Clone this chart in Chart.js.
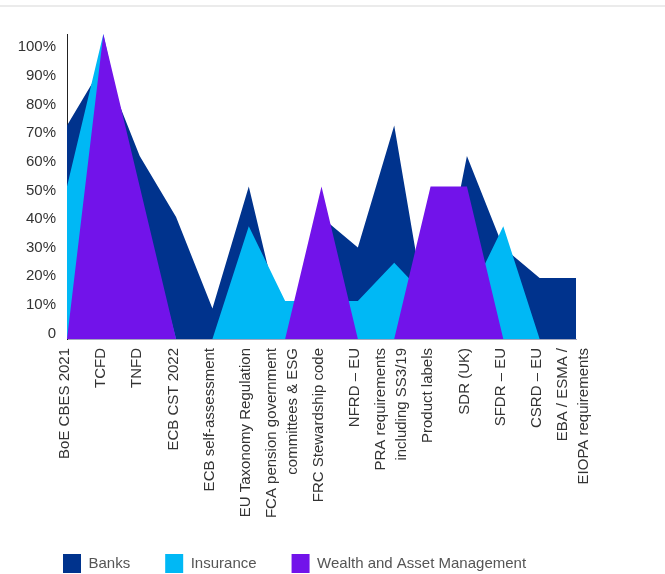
<!DOCTYPE html>
<html>
<head>
<meta charset="utf-8">
<script src="https://cdn.jsdelivr.net/npm/chart.js@4.4.0/dist/chart.umd.min.js"></script>
<style>
  html, body { margin: 0; padding: 0; background: #fff; }
  #wrap { position: relative; width: 665px; height: 574px; }
  .rule { position: absolute; left: 0; top: 5px; width: 665px; height: 2px; background: #ebebeb; }
</style>
</head>
<body>
<div id="wrap">
  <canvas id="chart"></canvas>
  <div class="rule"></div>
</div>
<script>
const categories = [
  'BoE CBES 2021',
  'TCFD',
  'TNFD',
  'ECB CST 2022',
  'ECB self-assessment',
  'EU Taxonomy Regulation',
  ['FCA pension government', 'committees & ESG'],
  'FRC Stewardship code',
  'NFRD – EU',
  ['PRA requirements', 'including SS3/19'],
  'Product labels',
  'SDR (UK)',
  'SFDR – EU',
  'CSRD – EU',
  ['EBA / ESMA /', 'EIOPA requirements'],
];

const banks = [70, 90, 60, 40, 10, 50, 0, 40, 30, 70, 0, 60, 30, 20, 20];
const insurance = [50, 100, 45, 0, 0, 37, 12.5, 12.5, 12.5, 25, 12.5, 12.5, 37, 0, 0];
const wealth = [0, 100, 50, 0, 0, 0, 0, 50, 0, 0, 50, 50, 0, 0, 0];

const tickValues = [0, 10, 20, 30, 40, 50, 60, 70, 80, 90, 100];

const FONT = "'Liberation Sans', Arial, Helvetica, sans-serif";
const LEGEND_LEFT = 63;
const LEGEND_TOP = 554;

// put the legend row where the source has it (first swatch under the axis)
const legendShift = {
  id: 'legendShift',
  afterLayout(chart) {
    const lg = chart.legend;
    if (!lg) return;
    const pad = lg.options.labels.padding;
    const w = lg.width;
    lg.left = LEGEND_LEFT - pad;
    lg.right = lg.left + w;
    lg.top = LEGEND_TOP - pad;
    lg.bottom = chart.height;
    lg.height = lg.bottom - lg.top;
  },
};

const ctx = document.getElementById('chart');

new Chart(ctx, {
  type: 'line',
  plugins: [legendShift],
  data: {
    labels: categories,
    datasets: [
      {
        label: 'Banks',
        data: banks,
        backgroundColor: '#00338d',
        borderColor: '#00338d',
        order: 3,
      },
      {
        label: 'Insurance',
        data: insurance,
        backgroundColor: '#00b8f5',
        borderColor: '#00b8f5',
        order: 2,
      },
      {
        label: 'Wealth and Asset Management',
        data: wealth,
        backgroundColor: '#7213ea',
        borderColor: '#7213ea',
        order: 1,
      },
    ],
  },
  options: {
    responsive: true,
    maintainAspectRatio: false,
    animation: false,
    layout: {
      padding: { top: 34, left: 12, right: 89, bottom: 0 },
    },
    elements: {
      line: { fill: 'origin', borderWidth: 0, tension: 0 },
      point: { radius: 0, hoverRadius: 0 },
    },
    plugins: {
      tooltip: { enabled: false },
      legend: {
        position: 'bottom',
        align: 'start',
        reverse: true,
        maxHeight: 30,
        labels: {
          boxWidth: 18,
          boxHeight: 19,
          padding: 35,
          color: '#555555',
          font: { family: FONT, size: 15 },
        },
      },
    },
    scales: {
      x: {
        offset: false,
        grid: { display: false, drawTicks: false },
        border: { display: true, color: '#a3a7bd', width: 1 },
        afterFit: (scale) => { scale.height = 205; },
        ticks: {
          autoSkip: false,
          minRotation: 90,
          maxRotation: 90,
          padding: 9,
          labelOffset: -13,
          color: '#333333',
          // one-line names get an empty leading line so they stay over their point
          // while two-line names straddle it
          callback: (v, i) => (Array.isArray(categories[i]) ? categories[i] : ['', categories[i]]),
          font: (c) => ({
            family: FONT,
            size: 15,
            lineHeight: Array.isArray(categories[c.index]) ? 1.4 : 0.7,
          }),
        },
      },
      // the plotted values use this scale
      y: {
        display: false,
        min: 0,
        max: 100,
      },
      // the printed percentage labels sit slightly offset from the plot scale in the source chart
      pct: {
        position: 'left',
        min: -1.9,
        max: 104.6,
        grid: { display: false, drawTicks: false },
        border: { display: true, color: '#222222', width: 1 },
        afterFit: (scale) => { scale.width = 55; },
        afterBuildTicks: (scale) => {
          scale.ticks = tickValues.map((v) => ({ value: v }));
        },
        ticks: {
          padding: 11,
          color: '#333333',
          font: { family: FONT, size: 15 },
          callback: (v) => (v === 0 ? '0' : v + '%'),
        },
      },
    },
  },
});
</script>
</body>
</html>
